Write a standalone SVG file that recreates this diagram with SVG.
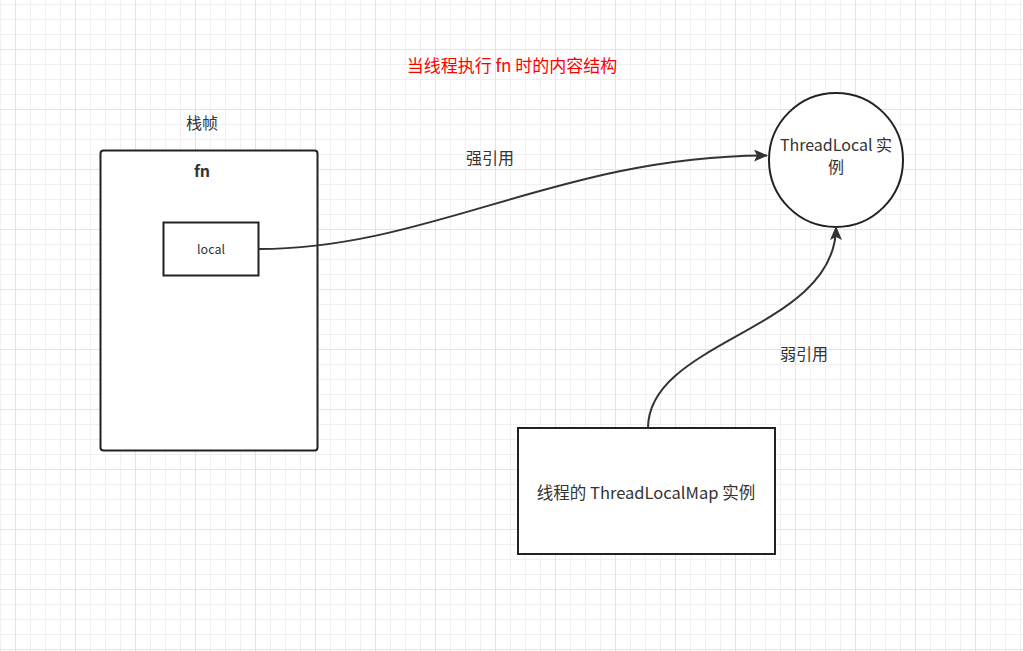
<svg xmlns="http://www.w3.org/2000/svg" width="1023" height="651" viewBox="0 0 1023 651">
  <style>
    .t { font-family: "Noto Sans CJK SC", "Noto Sans", sans-serif; fill: #333; }
    .box { fill: #fff; stroke: #1f2329; stroke-width: 2; }
    .edge { fill: none; stroke: #333; stroke-width: 2; }
  </style>
  <defs>
    <pattern id="minor" x="0" y="4" width="15" height="15" patternUnits="userSpaceOnUse">
      <path d="M0,0 H15 M0,0 V15" stroke="#f0f0f0" stroke-width="1" fill="none" shape-rendering="crispEdges"/>
    </pattern>
    <pattern id="major" x="15" y="49" width="60" height="60" patternUnits="userSpaceOnUse">
      <path d="M0,0 H60 M0,0 V60" stroke="#e3e3e3" stroke-width="1" fill="none" shape-rendering="crispEdges"/>
    </pattern>
    <marker id="arrow" viewBox="0 0 14 12" refX="13" refY="6" markerWidth="14" markerHeight="12" markerUnits="userSpaceOnUse" orient="auto">
      <path d="M0,0 L14,6 L0,12 L3,6 Z" fill="#333"/>
    </marker>
  </defs>
  <rect width="1023" height="651" fill="#fff"/>
  <rect width="1023" height="651" fill="url(#minor)"/>
  <rect width="1023" height="651" fill="url(#major)"/>

  <text class="t" x="512" y="72" text-anchor="middle" font-size="17" style="fill:#ff0000">当线程执行 fn 时的内容结构</text>

  <g id="stack-frame">
    <text class="t" x="202" y="129" text-anchor="middle" font-size="16">栈帧</text>
    <rect class="box" x="100.5" y="150.5" width="217" height="300" rx="3"/>
    <text class="t" x="202" y="177" text-anchor="middle" font-size="16" font-weight="bold">fn</text>
  </g>

  <g id="local">
    <rect class="box" x="163.5" y="222.5" width="95" height="53"/>
    <text class="t" x="211" y="253.5" text-anchor="middle" font-size="12.5">local</text>
  </g>

  <g id="threadlocal">
    <circle class="box" cx="836" cy="160" r="67"/>
    <text class="t" x="836" y="151" text-anchor="middle" font-size="16">ThreadLocal 实</text>
    <text class="t" x="836" y="173" text-anchor="middle" font-size="16">例</text>
  </g>

  <g id="threadlocalmap">
    <rect class="box" x="518" y="428" width="257" height="126"/>
    <text class="t" x="646" y="499" text-anchor="middle" font-size="16.5">线程的 ThreadLocalMap 实例</text>
  </g>

  <g id="connectors">
    <path class="edge" d="M259,249 C430,249 560,156 767,155.5" marker-end="url(#arrow)"/>
    <text class="t" x="490" y="164" text-anchor="middle" font-size="16">强引用</text>
    <path class="edge" d="M648,428 C648,340 836,330 836,227" marker-end="url(#arrow)"/>
    <text class="t" x="804" y="360" text-anchor="middle" font-size="16">弱引用</text>
  </g>
</svg>
